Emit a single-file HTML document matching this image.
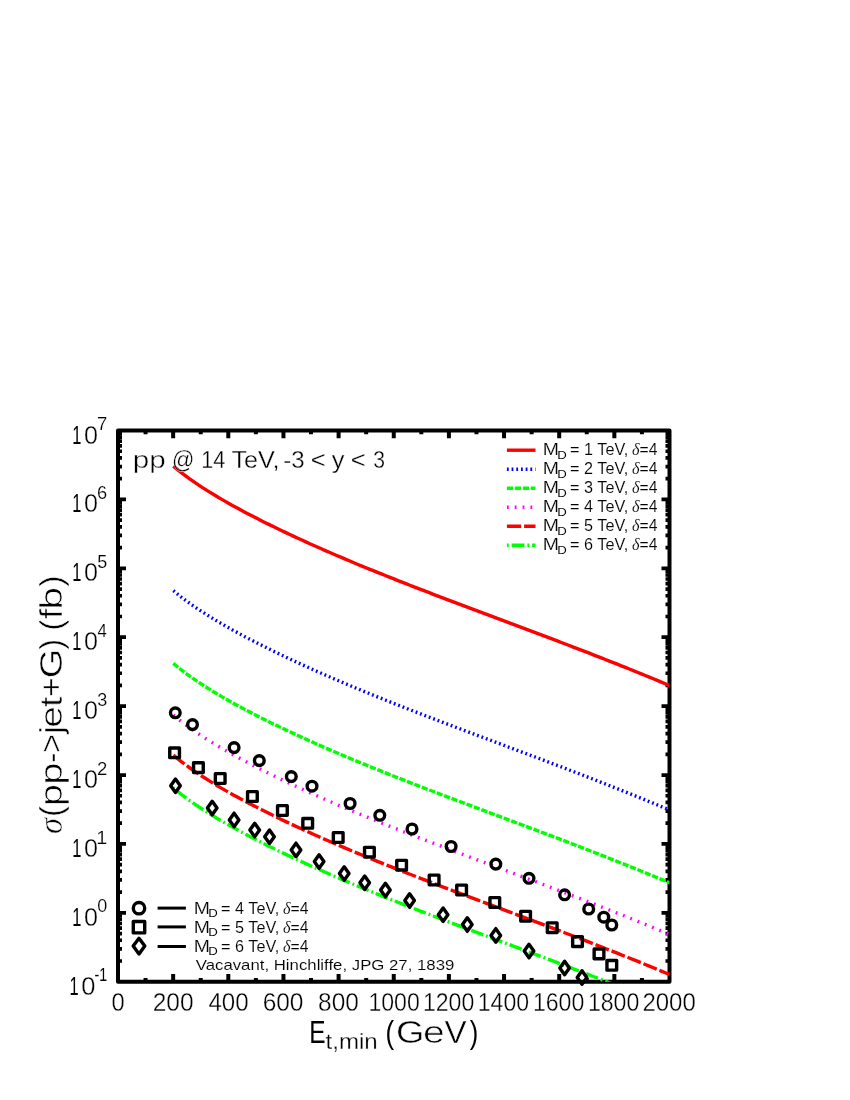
<!DOCTYPE html><html><head><meta charset="utf-8"><meta name="domain" content="Chart"><title>chart</title><style>html,body{margin:0;padding:0;background:#fff}svg{display:block}#w{will-change:transform;width:850px;height:1100px}text{font-family:"Liberation Sans",sans-serif;fill:#000;stroke:#fff}.it{font-family:"Liberation Serif",serif;font-style:italic}</style></head><body><div id="w">
<svg width="850" height="1100" viewBox="0 0 850 1100">
<rect width="850" height="1100" fill="#fff"/>
<defs><clipPath id="c"><rect x="118.0" y="430.5" width="551.5" height="551.25"/></clipPath></defs>
<g stroke="#000" stroke-width="4" fill="none">
<rect x="118.0" y="430.5" width="551.5" height="551.25" stroke-linejoin="round"/>
<path d="M145.57,981.75 v-3.75 M145.57,430.5 v3.75"/>
<path d="M173.15,981.75 v-7.75 M173.15,430.5 v7.75"/>
<path d="M200.72,981.75 v-3.75 M200.72,430.5 v3.75"/>
<path d="M228.30,981.75 v-7.75 M228.30,430.5 v7.75"/>
<path d="M255.88,981.75 v-3.75 M255.88,430.5 v3.75"/>
<path d="M283.45,981.75 v-7.75 M283.45,430.5 v7.75"/>
<path d="M311.02,981.75 v-3.75 M311.02,430.5 v3.75"/>
<path d="M338.60,981.75 v-7.75 M338.60,430.5 v7.75"/>
<path d="M366.18,981.75 v-3.75 M366.18,430.5 v3.75"/>
<path d="M393.75,981.75 v-7.75 M393.75,430.5 v7.75"/>
<path d="M421.32,981.75 v-3.75 M421.32,430.5 v3.75"/>
<path d="M448.90,981.75 v-7.75 M448.90,430.5 v7.75"/>
<path d="M476.48,981.75 v-3.75 M476.48,430.5 v3.75"/>
<path d="M504.05,981.75 v-7.75 M504.05,430.5 v7.75"/>
<path d="M531.62,981.75 v-3.75 M531.62,430.5 v3.75"/>
<path d="M559.20,981.75 v-7.75 M559.20,430.5 v7.75"/>
<path d="M586.77,981.75 v-3.75 M586.77,430.5 v3.75"/>
<path d="M614.35,981.75 v-7.75 M614.35,430.5 v7.75"/>
<path d="M641.92,981.75 v-3.75 M641.92,430.5 v3.75"/>
<path d="M118.0,961.01 h4 M669.5,961.01 h-4" stroke-width="3.7"/>
<path d="M118.0,948.87 h4 M669.5,948.87 h-4" stroke-width="3.7"/>
<path d="M118.0,940.26 h4 M669.5,940.26 h-4" stroke-width="3.7"/>
<path d="M118.0,933.59 h4 M669.5,933.59 h-4" stroke-width="3.7"/>
<path d="M118.0,928.13 h4 M669.5,928.13 h-4" stroke-width="3.7"/>
<path d="M118.0,923.52 h4 M669.5,923.52 h-4" stroke-width="3.7"/>
<path d="M118.0,919.52 h4 M669.5,919.52 h-4" stroke-width="3.7"/>
<path d="M118.0,916.00 h4 M669.5,916.00 h-4" stroke-width="3.7"/>
<path d="M118.0,912.84 h8 M669.5,912.84 h-8" stroke-width="3.7"/>
<path d="M118.0,892.10 h4 M669.5,892.10 h-4" stroke-width="3.7"/>
<path d="M118.0,879.97 h4 M669.5,879.97 h-4" stroke-width="3.7"/>
<path d="M118.0,871.36 h4 M669.5,871.36 h-4" stroke-width="3.7"/>
<path d="M118.0,864.68 h4 M669.5,864.68 h-4" stroke-width="3.7"/>
<path d="M118.0,859.22 h4 M669.5,859.22 h-4" stroke-width="3.7"/>
<path d="M118.0,854.61 h4 M669.5,854.61 h-4" stroke-width="3.7"/>
<path d="M118.0,850.62 h4 M669.5,850.62 h-4" stroke-width="3.7"/>
<path d="M118.0,847.09 h4 M669.5,847.09 h-4" stroke-width="3.7"/>
<path d="M118.0,843.94 h8 M669.5,843.94 h-8" stroke-width="3.7"/>
<path d="M118.0,823.19 h4 M669.5,823.19 h-4" stroke-width="3.7"/>
<path d="M118.0,811.06 h4 M669.5,811.06 h-4" stroke-width="3.7"/>
<path d="M118.0,802.45 h4 M669.5,802.45 h-4" stroke-width="3.7"/>
<path d="M118.0,795.77 h4 M669.5,795.77 h-4" stroke-width="3.7"/>
<path d="M118.0,790.32 h4 M669.5,790.32 h-4" stroke-width="3.7"/>
<path d="M118.0,785.70 h4 M669.5,785.70 h-4" stroke-width="3.7"/>
<path d="M118.0,781.71 h4 M669.5,781.71 h-4" stroke-width="3.7"/>
<path d="M118.0,778.18 h4 M669.5,778.18 h-4" stroke-width="3.7"/>
<path d="M118.0,775.03 h8 M669.5,775.03 h-8" stroke-width="3.7"/>
<path d="M118.0,754.29 h4 M669.5,754.29 h-4" stroke-width="3.7"/>
<path d="M118.0,742.15 h4 M669.5,742.15 h-4" stroke-width="3.7"/>
<path d="M118.0,733.55 h4 M669.5,733.55 h-4" stroke-width="3.7"/>
<path d="M118.0,726.87 h4 M669.5,726.87 h-4" stroke-width="3.7"/>
<path d="M118.0,721.41 h4 M669.5,721.41 h-4" stroke-width="3.7"/>
<path d="M118.0,716.80 h4 M669.5,716.80 h-4" stroke-width="3.7"/>
<path d="M118.0,712.80 h4 M669.5,712.80 h-4" stroke-width="3.7"/>
<path d="M118.0,709.28 h4 M669.5,709.28 h-4" stroke-width="3.7"/>
<path d="M118.0,706.12 h8 M669.5,706.12 h-8" stroke-width="3.7"/>
<path d="M118.0,685.38 h4 M669.5,685.38 h-4" stroke-width="3.7"/>
<path d="M118.0,673.25 h4 M669.5,673.25 h-4" stroke-width="3.7"/>
<path d="M118.0,664.64 h4 M669.5,664.64 h-4" stroke-width="3.7"/>
<path d="M118.0,657.96 h4 M669.5,657.96 h-4" stroke-width="3.7"/>
<path d="M118.0,652.51 h4 M669.5,652.51 h-4" stroke-width="3.7"/>
<path d="M118.0,647.89 h4 M669.5,647.89 h-4" stroke-width="3.7"/>
<path d="M118.0,643.90 h4 M669.5,643.90 h-4" stroke-width="3.7"/>
<path d="M118.0,640.37 h4 M669.5,640.37 h-4" stroke-width="3.7"/>
<path d="M118.0,637.22 h8 M669.5,637.22 h-8" stroke-width="3.7"/>
<path d="M118.0,616.48 h4 M669.5,616.48 h-4" stroke-width="3.7"/>
<path d="M118.0,604.34 h4 M669.5,604.34 h-4" stroke-width="3.7"/>
<path d="M118.0,595.73 h4 M669.5,595.73 h-4" stroke-width="3.7"/>
<path d="M118.0,589.06 h4 M669.5,589.06 h-4" stroke-width="3.7"/>
<path d="M118.0,583.60 h4 M669.5,583.60 h-4" stroke-width="3.7"/>
<path d="M118.0,578.99 h4 M669.5,578.99 h-4" stroke-width="3.7"/>
<path d="M118.0,574.99 h4 M669.5,574.99 h-4" stroke-width="3.7"/>
<path d="M118.0,571.47 h4 M669.5,571.47 h-4" stroke-width="3.7"/>
<path d="M118.0,568.31 h8 M669.5,568.31 h-8" stroke-width="3.7"/>
<path d="M118.0,547.57 h4 M669.5,547.57 h-4" stroke-width="3.7"/>
<path d="M118.0,535.44 h4 M669.5,535.44 h-4" stroke-width="3.7"/>
<path d="M118.0,526.83 h4 M669.5,526.83 h-4" stroke-width="3.7"/>
<path d="M118.0,520.15 h4 M669.5,520.15 h-4" stroke-width="3.7"/>
<path d="M118.0,514.69 h4 M669.5,514.69 h-4" stroke-width="3.7"/>
<path d="M118.0,510.08 h4 M669.5,510.08 h-4" stroke-width="3.7"/>
<path d="M118.0,506.08 h4 M669.5,506.08 h-4" stroke-width="3.7"/>
<path d="M118.0,502.56 h4 M669.5,502.56 h-4" stroke-width="3.7"/>
<path d="M118.0,499.41 h8 M669.5,499.41 h-8" stroke-width="3.7"/>
<path d="M118.0,478.66 h4 M669.5,478.66 h-4" stroke-width="3.7"/>
<path d="M118.0,466.53 h4 M669.5,466.53 h-4" stroke-width="3.7"/>
<path d="M118.0,457.92 h4 M669.5,457.92 h-4" stroke-width="3.7"/>
<path d="M118.0,451.24 h4 M669.5,451.24 h-4" stroke-width="3.7"/>
<path d="M118.0,445.79 h4 M669.5,445.79 h-4" stroke-width="3.7"/>
<path d="M118.0,441.17 h4 M669.5,441.17 h-4" stroke-width="3.7"/>
<path d="M118.0,437.18 h4 M669.5,437.18 h-4" stroke-width="3.7"/>
<path d="M118.0,433.65 h4 M669.5,433.65 h-4" stroke-width="3.7"/>
</g>
<g clip-path="url(#c)" fill="none" stroke-width="3.4">
<path d="M173.3,466.1 L177.3,469.4 L181.3,472.6 L185.3,475.6 L189.3,478.6 L193.3,481.4 L197.3,484.1 L201.3,486.8 L205.3,489.4 L209.3,491.9 L213.3,494.3 L217.3,496.7 L221.3,499.1 L225.3,501.4 L229.3,503.7 L233.3,505.9 L237.3,508.1 L241.3,510.3 L245.3,512.4 L249.3,514.5 L253.3,516.6 L257.3,518.6 L261.3,520.7 L265.3,522.7 L269.3,524.6 L273.3,526.6 L277.3,528.5 L281.3,530.5 L285.3,532.4 L289.3,534.3 L293.3,536.1 L297.3,538.0 L301.3,539.8 L305.3,541.6 L309.3,543.5 L313.3,545.2 L317.3,547.0 L321.3,548.8 L325.3,550.6 L329.3,552.3 L333.3,554.0 L337.3,555.7 L341.3,557.4 L345.3,559.1 L349.3,560.8 L353.3,562.5 L357.3,564.2 L361.3,565.8 L365.3,567.5 L369.3,569.1 L373.3,570.7 L377.3,572.3 L381.3,573.9 L385.3,575.5 L389.3,577.1 L393.3,578.7 L397.3,580.3 L401.3,581.9 L405.3,583.4 L409.3,585.0 L413.3,586.6 L417.3,588.1 L421.3,589.7 L425.3,591.2 L429.3,592.7 L433.3,594.3 L437.3,595.8 L441.3,597.3 L445.3,598.8 L449.3,600.3 L453.3,601.9 L457.3,603.4 L461.3,604.9 L465.3,606.4 L469.3,607.9 L473.3,609.4 L477.3,610.9 L481.3,612.4 L485.3,613.9 L489.3,615.4 L493.3,616.9 L497.3,618.4 L501.3,619.9 L505.3,621.4 L509.3,622.9 L513.3,624.4 L517.3,625.9 L521.3,627.4 L525.3,628.9 L529.3,630.4 L533.3,631.9 L537.3,633.4 L541.3,634.9 L545.3,636.4 L549.3,637.9 L553.3,639.4 L557.3,640.9 L561.3,642.5 L565.3,644.0 L569.3,645.5 L573.3,647.1 L577.3,648.6 L581.3,650.1 L585.3,651.7 L589.3,653.2 L593.3,654.8 L597.3,656.3 L601.3,657.9 L605.3,659.5 L609.3,661.1 L613.3,662.6 L617.3,664.2 L621.3,665.8 L625.3,667.4 L629.3,669.0 L633.3,670.6 L637.3,672.3 L641.3,673.9 L645.3,675.5 L649.3,677.1 L653.3,678.8 L657.3,680.4 L661.3,682.1 L665.3,683.8 L669.3,685.4 L669.5,685.5" stroke="#ff0000"/>
<path d="M173.3,590.6 L177.3,593.9 L181.3,597.1 L185.3,600.1 L189.3,603.0 L193.3,605.8 L197.3,608.6 L201.3,611.2 L205.3,613.8 L209.3,616.3 L213.3,618.8 L217.3,621.2 L221.3,623.5 L225.3,625.9 L229.3,628.1 L233.3,630.4 L237.3,632.6 L241.3,634.7 L245.3,636.9 L249.3,639.0 L253.3,641.0 L257.3,643.1 L261.3,645.1 L265.3,647.1 L269.3,649.1 L273.3,651.1 L277.3,653.0 L281.3,654.9 L285.3,656.8 L289.3,658.7 L293.3,660.6 L297.3,662.4 L301.3,664.3 L305.3,666.1 L309.3,667.9 L313.3,669.7 L317.3,671.5 L321.3,673.3 L325.3,675.0 L329.3,676.7 L333.3,678.5 L337.3,680.2 L341.3,681.9 L345.3,683.6 L349.3,685.3 L353.3,687.0 L357.3,688.6 L361.3,690.3 L365.3,691.9 L369.3,693.5 L373.3,695.2 L377.3,696.8 L381.3,698.4 L385.3,700.0 L389.3,701.6 L393.3,703.2 L397.3,704.8 L401.3,706.3 L405.3,707.9 L409.3,709.5 L413.3,711.0 L417.3,712.6 L421.3,714.1 L425.3,715.7 L429.3,717.2 L433.3,718.7 L437.3,720.2 L441.3,721.8 L445.3,723.3 L449.3,724.8 L453.3,726.3 L457.3,727.8 L461.3,729.3 L465.3,730.8 L469.3,732.3 L473.3,733.8 L477.3,735.3 L481.3,736.8 L485.3,738.3 L489.3,739.8 L493.3,741.3 L497.3,742.8 L501.3,744.3 L505.3,745.8 L509.3,747.3 L513.3,748.8 L517.3,750.3 L521.3,751.8 L525.3,753.3 L529.3,754.8 L533.3,756.3 L537.3,757.8 L541.3,759.3 L545.3,760.8 L549.3,762.4 L553.3,763.9 L557.3,765.4 L561.3,766.9 L565.3,768.4 L569.3,770.0 L573.3,771.5 L577.3,773.0 L581.3,774.6 L585.3,776.1 L589.3,777.7 L593.3,779.2 L597.3,780.8 L601.3,782.4 L605.3,783.9 L609.3,785.5 L613.3,787.1 L617.3,788.7 L621.3,790.3 L625.3,791.9 L629.3,793.5 L633.3,795.1 L637.3,796.7 L641.3,798.3 L645.3,800.0 L649.3,801.6 L653.3,803.2 L657.3,804.9 L661.3,806.6 L665.3,808.2 L669.3,809.9 L669.5,810.0" stroke="#0000ff" stroke-dasharray="1.8 2.89" stroke-dashoffset="0"/>
<path d="M173.3,663.4 L177.3,666.7 L181.3,669.9 L185.3,672.9 L189.3,675.8 L193.3,678.6 L197.3,681.4 L201.3,684.0 L205.3,686.6 L209.3,689.1 L213.3,691.6 L217.3,694.0 L221.3,696.4 L225.3,698.7 L229.3,700.9 L233.3,703.2 L237.3,705.4 L241.3,707.5 L245.3,709.7 L249.3,711.8 L253.3,713.8 L257.3,715.9 L261.3,717.9 L265.3,719.9 L269.3,721.9 L273.3,723.9 L277.3,725.8 L281.3,727.7 L285.3,729.6 L289.3,731.5 L293.3,733.4 L297.3,735.2 L301.3,737.1 L305.3,738.9 L309.3,740.7 L313.3,742.5 L317.3,744.3 L321.3,746.1 L325.3,747.8 L329.3,749.6 L333.3,751.3 L337.3,753.0 L341.3,754.7 L345.3,756.4 L349.3,758.1 L353.3,759.8 L357.3,761.4 L361.3,763.1 L365.3,764.7 L369.3,766.4 L373.3,768.0 L377.3,769.6 L381.3,771.2 L385.3,772.8 L389.3,774.4 L393.3,776.0 L397.3,777.6 L401.3,779.1 L405.3,780.7 L409.3,782.3 L413.3,783.8 L417.3,785.4 L421.3,786.9 L425.3,788.5 L429.3,790.0 L433.3,791.5 L437.3,793.0 L441.3,794.6 L445.3,796.1 L449.3,797.6 L453.3,799.1 L457.3,800.6 L461.3,802.1 L465.3,803.6 L469.3,805.1 L473.3,806.6 L477.3,808.1 L481.3,809.6 L485.3,811.1 L489.3,812.6 L493.3,814.1 L497.3,815.6 L501.3,817.1 L505.3,818.6 L509.3,820.1 L513.3,821.6 L517.3,823.1 L521.3,824.6 L525.3,826.1 L529.3,827.6 L533.3,829.1 L537.3,830.6 L541.3,832.1 L545.3,833.7 L549.3,835.2 L553.3,836.7 L557.3,838.2 L561.3,839.7 L565.3,841.2 L569.3,842.8 L573.3,844.3 L577.3,845.8 L581.3,847.4 L585.3,848.9 L589.3,850.5 L593.3,852.0 L597.3,853.6 L601.3,855.2 L605.3,856.7 L609.3,858.3 L613.3,859.9 L617.3,861.5 L621.3,863.1 L625.3,864.7 L629.3,866.3 L633.3,867.9 L637.3,869.5 L641.3,871.1 L645.3,872.8 L649.3,874.4 L653.3,876.1 L657.3,877.7 L661.3,879.4 L665.3,881.0 L669.3,882.7 L669.5,882.8" stroke="#00ff00" stroke-dasharray="6.2 1.76" stroke-dashoffset="0"/>
<path d="M173.3,715.0 L177.3,718.3 L181.3,721.5 L185.3,724.5 L189.3,727.5 L193.3,730.3 L197.3,733.0 L201.3,735.7 L205.3,738.3 L209.3,740.8 L213.3,743.2 L217.3,745.7 L221.3,748.0 L225.3,750.3 L229.3,752.6 L233.3,754.8 L237.3,757.0 L241.3,759.2 L245.3,761.3 L249.3,763.4 L253.3,765.5 L257.3,767.5 L261.3,769.6 L265.3,771.6 L269.3,773.6 L273.3,775.5 L277.3,777.5 L281.3,779.4 L285.3,781.3 L289.3,783.2 L293.3,785.0 L297.3,786.9 L301.3,788.7 L305.3,790.6 L309.3,792.4 L313.3,794.2 L317.3,795.9 L321.3,797.7 L325.3,799.5 L329.3,801.2 L333.3,802.9 L337.3,804.7 L341.3,806.4 L345.3,808.1 L349.3,809.7 L353.3,811.4 L357.3,813.1 L361.3,814.7 L365.3,816.4 L369.3,818.0 L373.3,819.6 L377.3,821.2 L381.3,822.9 L385.3,824.5 L389.3,826.1 L393.3,827.6 L397.3,829.2 L401.3,830.8 L405.3,832.4 L409.3,833.9 L413.3,835.5 L417.3,837.0 L421.3,838.6 L425.3,840.1 L429.3,841.6 L433.3,843.2 L437.3,844.7 L441.3,846.2 L445.3,847.7 L449.3,849.3 L453.3,850.8 L457.3,852.3 L461.3,853.8 L465.3,855.3 L469.3,856.8 L473.3,858.3 L477.3,859.8 L481.3,861.3 L485.3,862.8 L489.3,864.3 L493.3,865.8 L497.3,867.3 L501.3,868.8 L505.3,870.3 L509.3,871.8 L513.3,873.3 L517.3,874.8 L521.3,876.3 L525.3,877.8 L529.3,879.3 L533.3,880.8 L537.3,882.3 L541.3,883.8 L545.3,885.3 L549.3,886.8 L553.3,888.3 L557.3,889.9 L561.3,891.4 L565.3,892.9 L569.3,894.4 L573.3,896.0 L577.3,897.5 L581.3,899.0 L585.3,900.6 L589.3,902.1 L593.3,903.7 L597.3,905.3 L601.3,906.8 L605.3,908.4 L609.3,910.0 L613.3,911.6 L617.3,913.1 L621.3,914.7 L625.3,916.3 L629.3,917.9 L633.3,919.5 L637.3,921.2 L641.3,922.8 L645.3,924.4 L649.3,926.1 L653.3,927.7 L657.3,929.4 L661.3,931.0 L665.3,932.7 L669.3,934.4 L669.5,934.4" stroke="#ff00ff" stroke-dasharray="1.8 6.04" stroke-dashoffset="0"/>
<path d="M173.3,755.1 L177.3,758.4 L181.3,761.6 L185.3,764.6 L189.3,767.5 L193.3,770.4 L197.3,773.1 L201.3,775.8 L205.3,778.3 L209.3,780.9 L213.3,783.3 L217.3,785.7 L221.3,788.1 L225.3,790.4 L229.3,792.7 L233.3,794.9 L237.3,797.1 L241.3,799.2 L245.3,801.4 L249.3,803.5 L253.3,805.6 L257.3,807.6 L261.3,809.6 L265.3,811.6 L269.3,813.6 L273.3,815.6 L277.3,817.5 L281.3,819.5 L285.3,821.4 L289.3,823.2 L293.3,825.1 L297.3,827.0 L301.3,828.8 L305.3,830.6 L309.3,832.4 L313.3,834.2 L317.3,836.0 L321.3,837.8 L325.3,839.5 L329.3,841.3 L333.3,843.0 L337.3,844.7 L341.3,846.4 L345.3,848.1 L349.3,849.8 L353.3,851.5 L357.3,853.1 L361.3,854.8 L365.3,856.4 L369.3,858.1 L373.3,859.7 L377.3,861.3 L381.3,862.9 L385.3,864.5 L389.3,866.1 L393.3,867.7 L397.3,869.3 L401.3,870.9 L405.3,872.4 L409.3,874.0 L413.3,875.5 L417.3,877.1 L421.3,878.6 L425.3,880.2 L429.3,881.7 L433.3,883.2 L437.3,884.8 L441.3,886.3 L445.3,887.8 L449.3,889.3 L453.3,890.8 L457.3,892.3 L461.3,893.9 L465.3,895.4 L469.3,896.9 L473.3,898.4 L477.3,899.9 L481.3,901.4 L485.3,902.9 L489.3,904.4 L493.3,905.9 L497.3,907.4 L501.3,908.8 L505.3,910.3 L509.3,911.8 L513.3,913.3 L517.3,914.8 L521.3,916.3 L525.3,917.8 L529.3,919.3 L533.3,920.8 L537.3,922.4 L541.3,923.9 L545.3,925.4 L549.3,926.9 L553.3,928.4 L557.3,929.9 L561.3,931.4 L565.3,933.0 L569.3,934.5 L573.3,936.0 L577.3,937.6 L581.3,939.1 L585.3,940.7 L589.3,942.2 L593.3,943.8 L597.3,945.3 L601.3,946.9 L605.3,948.5 L609.3,950.0 L613.3,951.6 L617.3,953.2 L621.3,954.8 L625.3,956.4 L629.3,958.0 L633.3,959.6 L637.3,961.2 L641.3,962.9 L645.3,964.5 L649.3,966.1 L653.3,967.8 L657.3,969.4 L661.3,971.1 L665.3,972.8 L669.3,974.4 L669.5,974.5" stroke="#ff0000" stroke-dasharray="14.3 2.9" stroke-dashoffset="0"/>
<path d="M173.3,787.8 L177.3,791.1 L181.3,794.3 L185.3,797.3 L189.3,800.3 L193.3,803.1 L197.3,805.8 L201.3,808.5 L205.3,811.1 L209.3,813.6 L213.3,816.0 L217.3,818.5 L221.3,820.8 L225.3,823.1 L229.3,825.4 L233.3,827.6 L237.3,829.8 L241.3,832.0 L245.3,834.1 L249.3,836.2 L253.3,838.3 L257.3,840.3 L261.3,842.4 L265.3,844.4 L269.3,846.4 L273.3,848.3 L277.3,850.3 L281.3,852.2 L285.3,854.1 L289.3,856.0 L293.3,857.9 L297.3,859.7 L301.3,861.5 L305.3,863.4 L309.3,865.2 L313.3,867.0 L317.3,868.7 L321.3,870.5 L325.3,872.3 L329.3,874.0 L333.3,875.7 L337.3,877.5 L341.3,879.2 L345.3,880.9 L349.3,882.5 L353.3,884.2 L357.3,885.9 L361.3,887.5 L365.3,889.2 L369.3,890.8 L373.3,892.4 L377.3,894.1 L381.3,895.7 L385.3,897.3 L389.3,898.9 L393.3,900.4 L397.3,902.0 L401.3,903.6 L405.3,905.2 L409.3,906.7 L413.3,908.3 L417.3,909.8 L421.3,911.4 L425.3,912.9 L429.3,914.4 L433.3,916.0 L437.3,917.5 L441.3,919.0 L445.3,920.5 L449.3,922.1 L453.3,923.6 L457.3,925.1 L461.3,926.6 L465.3,928.1 L469.3,929.6 L473.3,931.1 L477.3,932.6 L481.3,934.1 L485.3,935.6 L489.3,937.1 L493.3,938.6 L497.3,940.1 L501.3,941.6 L505.3,943.1 L509.3,944.6 L513.3,946.1 L517.3,947.6 L521.3,949.1 L525.3,950.6 L529.3,952.1 L533.3,953.6 L537.3,955.1 L541.3,956.6 L545.3,958.1 L549.3,959.6 L553.3,961.1 L557.3,962.7 L561.3,964.2 L565.3,965.7 L569.3,967.2 L573.3,968.8 L577.3,970.3 L581.3,971.8 L585.3,973.4 L589.3,974.9 L593.3,976.5 L597.3,978.1 L601.3,979.6 L605.3,981.2 L609.3,982.8 L613.3,984.4 L617.3,985.9 L621.3,987.5 L625.3,989.1 L629.3,990.7 L633.3,992.3 L637.3,994.0 L641.3,995.6 L645.3,997.2 L649.3,998.9 L653.3,1000.5 L657.3,1002.2 L661.3,1003.8 L665.3,1005.5 L669.3,1007.2 L669.5,1007.2" stroke="#00ff00" stroke-dasharray="12.75 2.95 1.85 2.92" stroke-dashoffset="-3.98"/>
</g>
<g fill="none" stroke="#000" stroke-width="3.4" stroke-linejoin="round">
<circle cx="175.3" cy="712.8" r="4.85"/>
<circle cx="192.5" cy="724.6" r="4.85"/>
<circle cx="234.1" cy="747.6" r="4.85"/>
<circle cx="259.3" cy="760.6" r="4.85"/>
<circle cx="291.3" cy="776.6" r="4.85"/>
<circle cx="312" cy="786.2" r="4.85"/>
<circle cx="350.1" cy="803.5" r="4.85"/>
<circle cx="379.8" cy="815.3" r="4.85"/>
<circle cx="412" cy="829" r="4.85"/>
<circle cx="451.1" cy="846.5" r="4.85"/>
<circle cx="495.8" cy="864.1" r="4.85"/>
<circle cx="529" cy="878.3" r="4.85"/>
<circle cx="564.6" cy="894.8" r="4.85"/>
<circle cx="588.7" cy="909" r="4.85"/>
<circle cx="603.8" cy="917.2" r="4.85"/>
<circle cx="611.8" cy="925" r="4.85"/>
<rect x="169.75" y="747.95" width="9.7" height="9.7"/>
<rect x="193.55" y="762.75" width="9.7" height="9.7"/>
<rect x="215.35" y="773.65" width="9.7" height="9.7"/>
<rect x="247.55" y="791.65" width="9.7" height="9.7"/>
<rect x="277.55" y="805.65" width="9.7" height="9.7"/>
<rect x="302.85" y="818.45" width="9.7" height="9.7"/>
<rect x="333.35" y="832.65" width="9.7" height="9.7"/>
<rect x="364.55" y="847.35" width="9.7" height="9.7"/>
<rect x="396.75" y="860.35" width="9.7" height="9.7"/>
<rect x="429.25" y="875.15" width="9.7" height="9.7"/>
<rect x="456.75" y="885.15" width="9.7" height="9.7"/>
<rect x="489.95" y="897.65" width="9.7" height="9.7"/>
<rect x="520.75" y="911.35" width="9.7" height="9.7"/>
<rect x="547.35" y="922.85" width="9.7" height="9.7"/>
<rect x="572.65" y="936.75" width="9.7" height="9.7"/>
<rect x="594.15" y="949.05" width="9.7" height="9.7"/>
<rect x="606.95" y="960.45" width="9.7" height="9.7"/>
<path d="M175.5,779.05 L180.30,785.8 L175.5,792.55 L170.70,785.8 Z"/>
<path d="M212.2,801.35 L217.00,808.1 L212.2,814.85 L207.40,808.1 Z"/>
<path d="M234.1,813.15 L238.90,819.9 L234.1,826.65 L229.30,819.9 Z"/>
<path d="M254.7,823.35 L259.50,830.1 L254.7,836.85 L249.90,830.1 Z"/>
<path d="M269.5,829.95 L274.30,836.7 L269.5,843.45 L264.70,836.7 Z"/>
<path d="M296,843.15 L300.80,849.9 L296,856.65 L291.20,849.9 Z"/>
<path d="M319.1,854.85 L323.90,861.6 L319.1,868.35 L314.30,861.6 Z"/>
<path d="M344.2,866.85 L349.00,873.6 L344.2,880.35 L339.40,873.6 Z"/>
<path d="M364.7,876.05 L369.50,882.8 L364.7,889.55 L359.90,882.8 Z"/>
<path d="M385.4,883.35 L390.20,890.1 L385.4,896.85 L380.60,890.1 Z"/>
<path d="M409.6,893.85 L414.40,900.6 L409.6,907.35 L404.80,900.6 Z"/>
<path d="M443.1,907.95 L447.90,914.7 L443.1,921.45 L438.30,914.7 Z"/>
<path d="M467.3,917.85 L472.10,924.6 L467.3,931.35 L462.50,924.6 Z"/>
<path d="M495.8,928.65 L500.60,935.4 L495.8,942.15 L491.00,935.4 Z"/>
<path d="M529,944.35 L533.80,951.1 L529,957.85 L524.20,951.1 Z"/>
<path d="M564.6,961.25 L569.40,968 L564.6,974.75 L559.80,968 Z"/>
<path d="M582,970.75 L586.80,977.5 L582,984.25 L577.20,977.5 Z"/>
<circle cx="139.0" cy="908.2" r="5.7"/>
<rect x="133.30" y="921.50" width="11.4" height="11.4"/>
<path d="M139.0,938.25 L144.80,946.1 L139.0,953.95 L133.20,946.1 Z"/>
</g>
<g stroke="#000" stroke-width="3">
<path d="M157.6,908.1 H185.9"/>
<path d="M157.6,926.9 H185.9"/>
<path d="M157.6,946.5 H185.9"/>
</g>
<g fill="none" stroke-width="3.4">
<path d="M506.9,450.2 H535.5" stroke="#ff0000"/>
<path d="M506.9,469.2 H535.5" stroke="#0000ff" stroke-dasharray="1.8 2.89" stroke-dashoffset="0"/>
<path d="M506.9,488.2 H535.5" stroke="#00ff00" stroke-dasharray="6.2 1.76" stroke-dashoffset="0"/>
<path d="M506.9,507.2 H535.5" stroke="#ff00ff" stroke-dasharray="1.8 6.04" stroke-dashoffset="0"/>
<path d="M506.9,526.2 H535.5" stroke="#ff0000" stroke-dasharray="14.3 2.9" stroke-dashoffset="0"/>
<path d="M506.9,545.2 H535.5" stroke="#00ff00" stroke-dasharray="12.75 2.95 1.85 2.92" stroke-dashoffset="15.7"/>
</g>
<text x="542.85" y="455.3" font-size="15.7" stroke-width="0.15" textLength="16.19" lengthAdjust="spacingAndGlyphs">M</text>
<text x="557.39" y="458.8" font-size="11.4" stroke-width="0.02" textLength="9.51" lengthAdjust="spacingAndGlyphs">D</text>
<text x="570.13" y="455.3" font-size="15.7" stroke-width="0.12" textLength="58.16" lengthAdjust="spacingAndGlyphs">= 1 TeV,</text>
<text x="631.90" y="455.3" font-size="16.2" stroke-width="0.13" class="it">δ</text>
<text x="639.55" y="455.3" font-size="15.7" stroke-width="0.12">=4</text>
<text x="542.85" y="474.3" font-size="15.7" stroke-width="0.15" textLength="16.19" lengthAdjust="spacingAndGlyphs">M</text>
<text x="557.39" y="477.8" font-size="11.4" stroke-width="0.02" textLength="9.51" lengthAdjust="spacingAndGlyphs">D</text>
<text x="570.13" y="474.3" font-size="15.7" stroke-width="0.12" textLength="58.16" lengthAdjust="spacingAndGlyphs">= 2 TeV,</text>
<text x="631.90" y="474.3" font-size="16.2" stroke-width="0.13" class="it">δ</text>
<text x="639.55" y="474.3" font-size="15.7" stroke-width="0.12">=4</text>
<text x="542.85" y="493.3" font-size="15.7" stroke-width="0.15" textLength="16.19" lengthAdjust="spacingAndGlyphs">M</text>
<text x="557.39" y="496.8" font-size="11.4" stroke-width="0.02" textLength="9.51" lengthAdjust="spacingAndGlyphs">D</text>
<text x="570.13" y="493.3" font-size="15.7" stroke-width="0.12" textLength="58.16" lengthAdjust="spacingAndGlyphs">= 3 TeV,</text>
<text x="631.90" y="493.3" font-size="16.2" stroke-width="0.13" class="it">δ</text>
<text x="639.55" y="493.3" font-size="15.7" stroke-width="0.12">=4</text>
<text x="542.85" y="512.3" font-size="15.7" stroke-width="0.15" textLength="16.19" lengthAdjust="spacingAndGlyphs">M</text>
<text x="557.39" y="515.8" font-size="11.4" stroke-width="0.02" textLength="9.51" lengthAdjust="spacingAndGlyphs">D</text>
<text x="570.13" y="512.3" font-size="15.7" stroke-width="0.12" textLength="58.16" lengthAdjust="spacingAndGlyphs">= 4 TeV,</text>
<text x="631.90" y="512.3" font-size="16.2" stroke-width="0.13" class="it">δ</text>
<text x="639.55" y="512.3" font-size="15.7" stroke-width="0.12">=4</text>
<text x="542.85" y="531.3" font-size="15.7" stroke-width="0.15" textLength="16.19" lengthAdjust="spacingAndGlyphs">M</text>
<text x="557.39" y="534.8" font-size="11.4" stroke-width="0.02" textLength="9.51" lengthAdjust="spacingAndGlyphs">D</text>
<text x="570.13" y="531.3" font-size="15.7" stroke-width="0.12" textLength="58.16" lengthAdjust="spacingAndGlyphs">= 5 TeV,</text>
<text x="631.90" y="531.3" font-size="16.2" stroke-width="0.13" class="it">δ</text>
<text x="639.55" y="531.3" font-size="15.7" stroke-width="0.12">=4</text>
<text x="542.85" y="550.3" font-size="15.7" stroke-width="0.15" textLength="16.19" lengthAdjust="spacingAndGlyphs">M</text>
<text x="557.39" y="553.8" font-size="11.4" stroke-width="0.02" textLength="9.51" lengthAdjust="spacingAndGlyphs">D</text>
<text x="570.13" y="550.3" font-size="15.7" stroke-width="0.12" textLength="58.16" lengthAdjust="spacingAndGlyphs">= 6 TeV,</text>
<text x="631.90" y="550.3" font-size="16.2" stroke-width="0.13" class="it">δ</text>
<text x="639.55" y="550.3" font-size="15.7" stroke-width="0.12">=4</text>
<text x="193.85" y="913.6" font-size="15.7" stroke-width="0.15" textLength="16.19" lengthAdjust="spacingAndGlyphs">M</text>
<text x="208.39" y="917.1" font-size="11.4" stroke-width="0.02" textLength="9.51" lengthAdjust="spacingAndGlyphs">D</text>
<text x="221.13" y="913.6" font-size="15.7" stroke-width="0.12" textLength="58.16" lengthAdjust="spacingAndGlyphs">= 4 TeV,</text>
<text x="282.90" y="913.6" font-size="16.2" stroke-width="0.13" class="it">δ</text>
<text x="290.55" y="913.6" font-size="15.7" stroke-width="0.12">=4</text>
<text x="193.85" y="932.6" font-size="15.7" stroke-width="0.15" textLength="16.19" lengthAdjust="spacingAndGlyphs">M</text>
<text x="208.39" y="936.1" font-size="11.4" stroke-width="0.02" textLength="9.51" lengthAdjust="spacingAndGlyphs">D</text>
<text x="221.13" y="932.6" font-size="15.7" stroke-width="0.12" textLength="58.16" lengthAdjust="spacingAndGlyphs">= 5 TeV,</text>
<text x="282.90" y="932.6" font-size="16.2" stroke-width="0.13" class="it">δ</text>
<text x="290.55" y="932.6" font-size="15.7" stroke-width="0.12">=4</text>
<text x="193.85" y="951.6" font-size="15.7" stroke-width="0.15" textLength="16.19" lengthAdjust="spacingAndGlyphs">M</text>
<text x="208.39" y="955.1" font-size="11.4" stroke-width="0.02" textLength="9.51" lengthAdjust="spacingAndGlyphs">D</text>
<text x="221.13" y="951.6" font-size="15.7" stroke-width="0.12" textLength="58.16" lengthAdjust="spacingAndGlyphs">= 6 TeV,</text>
<text x="282.90" y="951.6" font-size="16.2" stroke-width="0.13" class="it">δ</text>
<text x="290.55" y="951.6" font-size="15.7" stroke-width="0.12">=4</text>
<text x="195.76" y="970.1" font-size="15.5" stroke-width="0.11" textLength="258.60" lengthAdjust="spacingAndGlyphs">Vacavant, Hinchliffe, JPG 27, 1839</text>
<text x="132.67" y="468.4" font-size="23" stroke-width="0.38" textLength="32.97" lengthAdjust="spacingAndGlyphs">pp</text>
<text x="171.92" y="468.4" font-size="23" stroke-width="0.29" textLength="22.37" lengthAdjust="spacingAndGlyphs">@</text>
<text x="201.36" y="468.4" font-size="23" stroke-width="0.29" textLength="24.01" lengthAdjust="spacingAndGlyphs">14</text>
<text x="231.45" y="468.4" font-size="23" stroke-width="0.29" textLength="48.18" lengthAdjust="spacingAndGlyphs">TeV,</text>
<text x="283.36" y="468.4" font-size="23" stroke-width="0.29" textLength="21.37" lengthAdjust="spacingAndGlyphs">-3</text>
<text x="310.75" y="468.4" font-size="23" stroke-width="0.29" textLength="14.97" lengthAdjust="spacingAndGlyphs">&lt;</text>
<text x="331.86" y="468.4" font-size="23" stroke-width="0.29" textLength="12.68" lengthAdjust="spacingAndGlyphs">y</text>
<text x="350.75" y="468.4" font-size="23" stroke-width="0.29" textLength="14.97" lengthAdjust="spacingAndGlyphs">&lt;</text>
<text x="373.20" y="468.4" font-size="23" stroke-width="0.29" textLength="11.76" lengthAdjust="spacingAndGlyphs">3</text>
<text x="111.50" y="1010.7" font-size="25.7" stroke-width="0.35" textLength="13.18" lengthAdjust="spacingAndGlyphs">0</text>
<text x="152.66" y="1010.7" font-size="25.7" stroke-width="0.35" textLength="40.85" lengthAdjust="spacingAndGlyphs">200</text>
<text x="208.39" y="1010.7" font-size="25.7" stroke-width="0.35" textLength="40.23" lengthAdjust="spacingAndGlyphs">400</text>
<text x="262.63" y="1010.7" font-size="25.7" stroke-width="0.35" textLength="40.85" lengthAdjust="spacingAndGlyphs">600</text>
<text x="318.08" y="1010.7" font-size="25.7" stroke-width="0.35" textLength="40.72" lengthAdjust="spacingAndGlyphs">800</text>
<text x="368.40" y="1010.7" font-size="25.7" stroke-width="0.35" textLength="51.34" lengthAdjust="spacingAndGlyphs">1000</text>
<text x="422.90" y="1010.7" font-size="25.7" stroke-width="0.35" textLength="51.34" lengthAdjust="spacingAndGlyphs">1200</text>
<text x="477.73" y="1010.7" font-size="25.7" stroke-width="0.35" textLength="51.34" lengthAdjust="spacingAndGlyphs">1400</text>
<text x="532.93" y="1010.7" font-size="25.7" stroke-width="0.35" textLength="51.34" lengthAdjust="spacingAndGlyphs">1600</text>
<text x="587.93" y="1010.7" font-size="25.7" stroke-width="0.35" textLength="51.34" lengthAdjust="spacingAndGlyphs">1800</text>
<text x="642.43" y="1010.7" font-size="25.7" stroke-width="0.35" textLength="53.34" lengthAdjust="spacingAndGlyphs">2000</text>
<text x="69.61" y="994.8" font-size="25.5" stroke-width="0.00" textLength="9.13" lengthAdjust="spacingAndGlyphs">1</text>
<text x="81.20" y="994.8" font-size="25.5" stroke-width="0.35">0</text>
<text x="94.41" y="981.3" font-size="18" stroke-width="0.00" textLength="12.69" lengthAdjust="spacingAndGlyphs">-1</text>
<text x="72.31" y="925.8" font-size="25.5" stroke-width="0.00" textLength="9.13" lengthAdjust="spacingAndGlyphs">1</text>
<text x="83.91" y="925.8" font-size="25.5" stroke-width="0.35" textLength="13.98" lengthAdjust="spacingAndGlyphs">0</text>
<text x="97.15" y="912.4" font-size="18" stroke-width="0.17">0</text>
<text x="72.31" y="856.9" font-size="25.5" stroke-width="0.00" textLength="9.13" lengthAdjust="spacingAndGlyphs">1</text>
<text x="83.91" y="856.9" font-size="25.5" stroke-width="0.35" textLength="13.98" lengthAdjust="spacingAndGlyphs">0</text>
<text x="96.39" y="843.5" font-size="18" stroke-width="0.17" textLength="10.98" lengthAdjust="spacingAndGlyphs">1</text>
<text x="72.31" y="788.0" font-size="25.5" stroke-width="0.00" textLength="9.13" lengthAdjust="spacingAndGlyphs">1</text>
<text x="83.91" y="788.0" font-size="25.5" stroke-width="0.35" textLength="13.98" lengthAdjust="spacingAndGlyphs">0</text>
<text x="97.00" y="774.6" font-size="18" stroke-width="0.17" textLength="10.32" lengthAdjust="spacingAndGlyphs">2</text>
<text x="72.31" y="719.1" font-size="25.5" stroke-width="0.00" textLength="9.13" lengthAdjust="spacingAndGlyphs">1</text>
<text x="83.91" y="719.1" font-size="25.5" stroke-width="0.35" textLength="13.98" lengthAdjust="spacingAndGlyphs">0</text>
<text x="97.15" y="705.7" font-size="18" stroke-width="0.17">3</text>
<text x="72.31" y="650.2" font-size="25.5" stroke-width="0.00" textLength="9.13" lengthAdjust="spacingAndGlyphs">1</text>
<text x="83.91" y="650.2" font-size="25.5" stroke-width="0.35" textLength="13.98" lengthAdjust="spacingAndGlyphs">0</text>
<text x="97.55" y="636.8" font-size="18" stroke-width="0.17" textLength="9.33" lengthAdjust="spacingAndGlyphs">4</text>
<text x="72.31" y="581.3" font-size="25.5" stroke-width="0.00" textLength="9.13" lengthAdjust="spacingAndGlyphs">1</text>
<text x="83.91" y="581.3" font-size="25.5" stroke-width="0.35" textLength="13.98" lengthAdjust="spacingAndGlyphs">0</text>
<text x="97.15" y="567.9" font-size="18" stroke-width="0.17">5</text>
<text x="72.31" y="512.4" font-size="25.5" stroke-width="0.00" textLength="9.13" lengthAdjust="spacingAndGlyphs">1</text>
<text x="83.91" y="512.4" font-size="25.5" stroke-width="0.35" textLength="13.98" lengthAdjust="spacingAndGlyphs">0</text>
<text x="97.01" y="499.0" font-size="18" stroke-width="0.17" textLength="10.16" lengthAdjust="spacingAndGlyphs">6</text>
<text x="72.31" y="443.5" font-size="25.5" stroke-width="0.00" textLength="9.13" lengthAdjust="spacingAndGlyphs">1</text>
<text x="83.91" y="443.5" font-size="25.5" stroke-width="0.35" textLength="13.98" lengthAdjust="spacingAndGlyphs">0</text>
<text x="97.00" y="430.1" font-size="18" stroke-width="0.17" textLength="10.32" lengthAdjust="spacingAndGlyphs">7</text>
<text x="309.13" y="1043.0" font-size="31" stroke-width="0.00" textLength="16.30" lengthAdjust="spacingAndGlyphs">E</text>
<text x="325.49" y="1049.1" font-size="22" stroke-width="0.27" textLength="52.27" lengthAdjust="spacingAndGlyphs">t,min</text>
<text x="385.53" y="1043.0" font-size="31" stroke-width="0.00" textLength="8.63" lengthAdjust="spacingAndGlyphs">(</text>
<text x="396.13" y="1043.0" font-size="31" stroke-width="0.48" textLength="28.46" lengthAdjust="spacingAndGlyphs">G</text>
<text x="422.96" y="1043.0" font-size="31" stroke-width="0.62" textLength="21.76" lengthAdjust="spacingAndGlyphs">e</text>
<text x="444.53" y="1043.0" font-size="31" stroke-width="0.48" textLength="22.16" lengthAdjust="spacingAndGlyphs">V</text>
<text x="469.69" y="1043.0" font-size="31" stroke-width="0.00" textLength="8.51" lengthAdjust="spacingAndGlyphs">)</text>
<text transform="translate(61.8,834) rotate(-90)" x="0.02" y="0" font-size="33" stroke-width="0.53" class="it" textLength="16.03" lengthAdjust="spacingAndGlyphs">σ</text>
<text transform="translate(61.8,834) rotate(-90)" x="16.97" y="0" font-size="32" stroke-width="0.50" textLength="10.82" lengthAdjust="spacingAndGlyphs">(</text>
<text transform="translate(61.8,834) rotate(-90)" x="27.84" y="0" font-size="32" stroke-width="0.65" textLength="22.28" lengthAdjust="spacingAndGlyphs">p</text>
<text transform="translate(61.8,834) rotate(-90)" x="49.34" y="0" font-size="32" stroke-width="0.65" textLength="22.28" lengthAdjust="spacingAndGlyphs">p</text>
<text transform="translate(61.8,834) rotate(-90)" x="71.19" y="0" font-size="32" stroke-width="0.50" textLength="10.15" lengthAdjust="spacingAndGlyphs">-</text>
<text transform="translate(61.8,834) rotate(-90)" x="81.38" y="0" font-size="32" stroke-width="0.50">&gt;</text>
<text transform="translate(61.8,834) rotate(-90)" x="100.28" y="0" font-size="32" stroke-width="0.50" textLength="7.42" lengthAdjust="spacingAndGlyphs">j</text>
<text transform="translate(61.8,834) rotate(-90)" x="106.22" y="0" font-size="32" stroke-width="0.65" textLength="21.71" lengthAdjust="spacingAndGlyphs">e</text>
<text transform="translate(61.8,834) rotate(-90)" x="127.02" y="0" font-size="32" stroke-width="0.50" textLength="10.40" lengthAdjust="spacingAndGlyphs">t</text>
<text transform="translate(61.8,834) rotate(-90)" x="137.22" y="0" font-size="32" stroke-width="0.50" textLength="19.29" lengthAdjust="spacingAndGlyphs">+</text>
<text transform="translate(61.8,834) rotate(-90)" x="155.86" y="0" font-size="32" stroke-width="0.50" textLength="29.69" lengthAdjust="spacingAndGlyphs">G</text>
<text transform="translate(61.8,834) rotate(-90)" x="184.35" y="0" font-size="32" stroke-width="0.50" textLength="10.82" lengthAdjust="spacingAndGlyphs">)</text>
<text transform="translate(61.8,834) rotate(-90)" x="203.17" y="0" font-size="32" stroke-width="0.50" textLength="11.32" lengthAdjust="spacingAndGlyphs">(</text>
<text transform="translate(61.8,834) rotate(-90)" x="215.03" y="0" font-size="32" stroke-width="0.50" textLength="10.08" lengthAdjust="spacingAndGlyphs">f</text>
<text transform="translate(61.8,834) rotate(-90)" x="224.18" y="0" font-size="32" stroke-width="0.65" textLength="22.78" lengthAdjust="spacingAndGlyphs">b</text>
<text transform="translate(61.8,834) rotate(-90)" x="247.33" y="0" font-size="32" stroke-width="0.50" textLength="11.45" lengthAdjust="spacingAndGlyphs">)</text>
</svg></div></body></html>
